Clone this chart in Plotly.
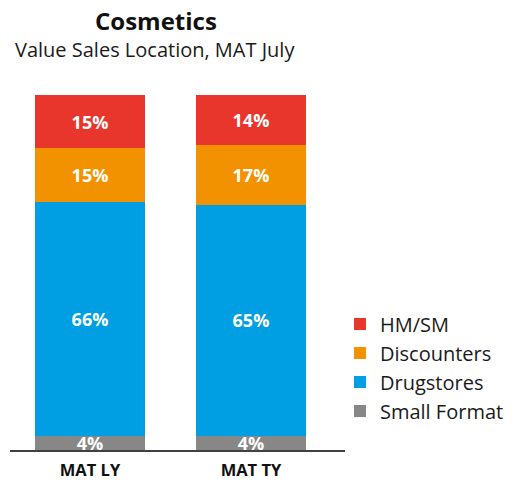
import plotly.graph_objects as go

categories = ["MAT LY", "MAT TY"]
series_names = ["Small Format", "Drugstores", "Discounters", "HM/SM"]
small_format = [4, 4]
drugstores = [66, 65]
discounters = [15, 17]
hm_sm = [15, 14]
colors = ["#878787", "#009FE3", "#F39200", "#E8362D"]

values = [small_format, drugstores, discounters, hm_sm]

fig = go.Figure()
for name, vals, col in zip(series_names, values, colors):
    fig.add_trace(go.Bar(
        x=categories, y=vals, name=name,
        marker=dict(color=col, line=dict(width=0)),
        texttemplate="%{y}%", textposition="inside",
        insidetextanchor="middle", textangle=0, constraintext="none",
        textfont=dict(color="white", size=18, family="Open Sans", weight="bold"),
        hoverinfo="skip",
    ))

W, H = 517, 480
ml, mr, mt, mb = 10, W - 345, 95, H - 450
fig.update_layout(
    width=W, height=H,
    barmode="stack", bargap=0.317,
    margin=dict(l=ml, r=mr, t=mt, b=mb, autoexpand=False),
    paper_bgcolor="white", plot_bgcolor="white",
    font=dict(family="Open Sans", color="#1a1a1a"),
    xaxis=dict(
        range=[-0.497, 1.584], showgrid=False, zeroline=False,
        showline=True, linecolor="#404040", linewidth=2,
        ticks="", tickfont=dict(size=16.5, color="#111111", weight="bold"),
        ticklabelstandoff=4, automargin=False,
        fixedrange=True,
    ),
    yaxis=dict(range=[0, 100], visible=False, fixedrange=True, automargin=False),
    legend=dict(
        x=0.985, xanchor="left", y=0.41, yanchor="top",
        traceorder="reversed", font=dict(size=20, color="#1a1a1a"),
        bgcolor="rgba(0,0,0,0)", itemwidth=30,
    ),
    showlegend=True,
    annotations=[
        dict(text="<b>Cosmetics</b>", xref="paper", yref="paper",
             x=0.436, y=(450 - 20) / 355, xanchor="center", yanchor="middle",
             showarrow=False, font=dict(size=24, color="#111111")),
        dict(text="Value Sales Location, MAT July", xref="paper", yref="paper",
             x=0.433, y=(450 - 50) / 355, xanchor="center", yanchor="middle",
             showarrow=False, font=dict(size=20, color="#1a1a1a")),
    ],
)

# remove the default 8px page margin so the figure fills the 517x480 window
fig.write_html("out.html", config={"displayModeBar": False},
               post_script="document.body.style.margin='0';")
